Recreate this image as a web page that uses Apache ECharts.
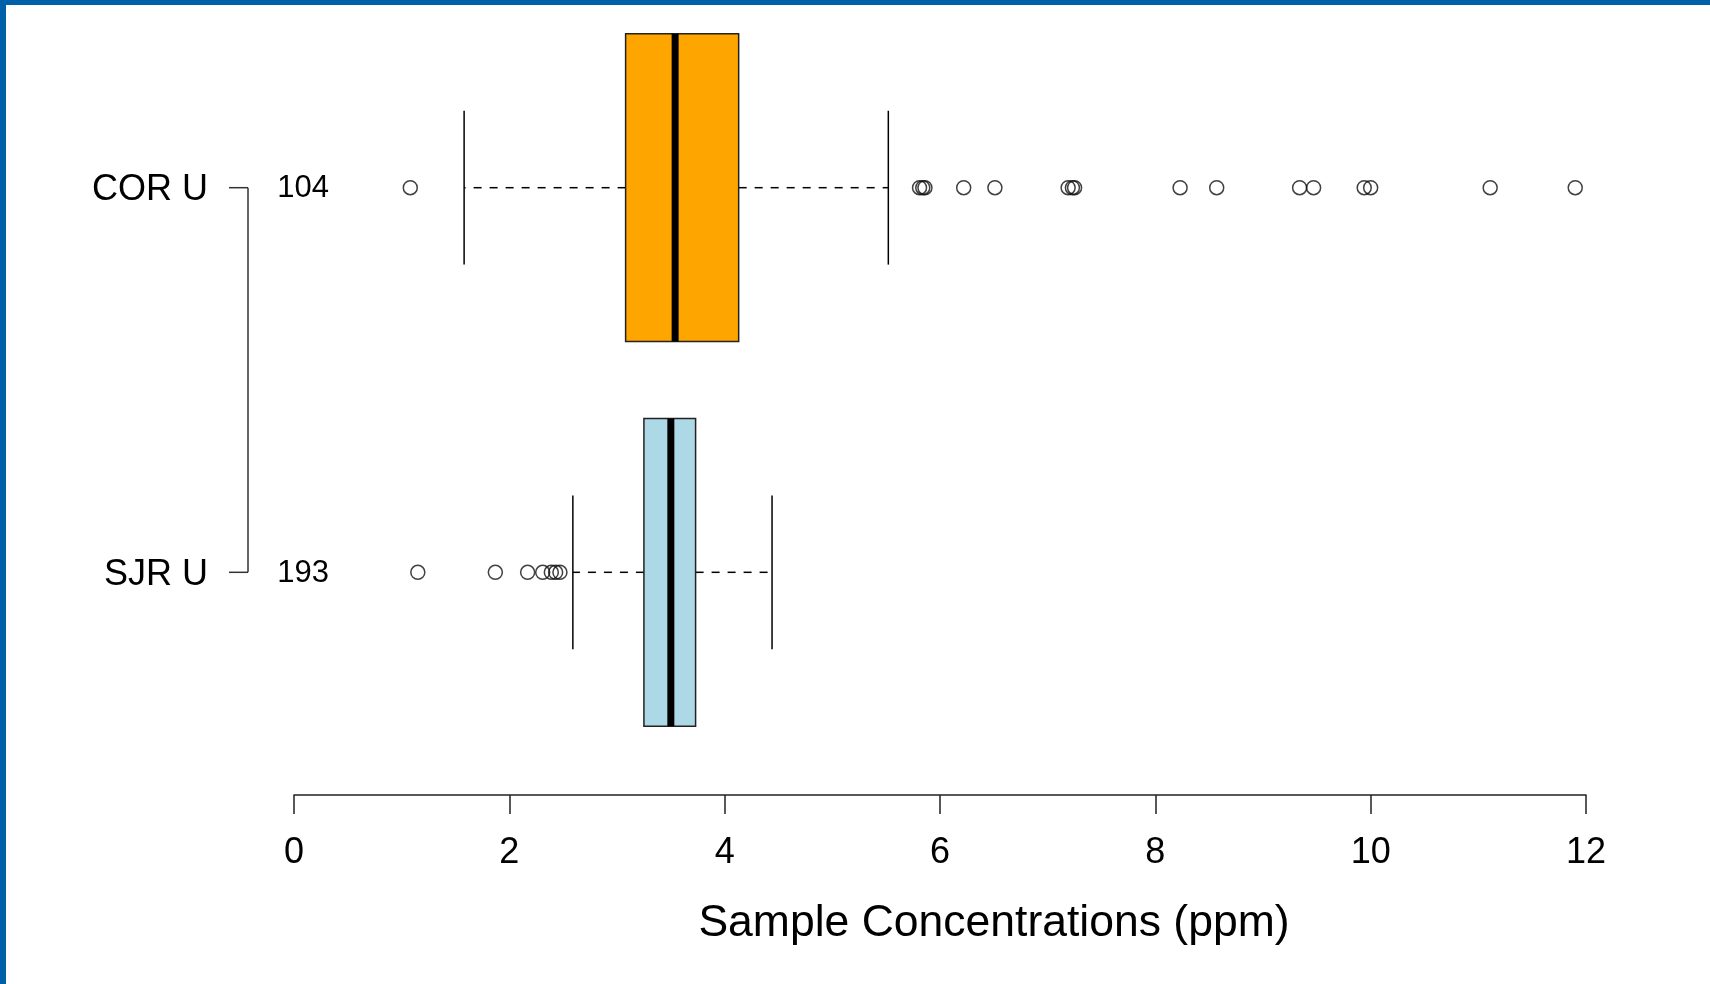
<!DOCTYPE html>
<html>
<head>
<meta charset="utf-8">
<script src="https://cdn.jsdelivr.net/npm/echarts@6/dist/echarts.min.js"></script>
<style>
  html, body { margin: 0; padding: 0; background: #fff; }
  #chart { width: 1710px; height: 984px; }
</style>
</head>
<body>
<div id="chart"></div>
<script>
// groups, bottom to top (y = index)
const categories = ['SJR U', 'COR U'];
const counts = [193, 104];
const boxColors = ['#ADD8E6', '#FFA500'];

// five-number summaries
const lowerWhisker = [2.59, 1.58];
const q1 = [3.25, 3.08];
const median = [3.50, 3.54];
const q3 = [3.73, 4.13];
const upperWhisker = [4.44, 5.52];

// outliers
const outliersSJR = [1.15, 1.87, 2.17, 2.31, 2.39, 2.43, 2.47];
const outliersCOR = [1.08, 5.81, 5.84, 5.86, 6.22, 6.51, 7.19, 7.23, 7.25,
                     8.23, 8.57, 9.34, 9.47, 9.94, 10.0, 11.11, 11.90];

const xTicks = [0, 2, 4, 6, 8, 10, 12];

const chart = echarts.init(document.getElementById('chart'));

const boxData = categories.map((c, i) => [i, lowerWhisker[i], q1[i], median[i], q3[i], upperWhisker[i]]);
const outlierData = [];
outliersSJR.forEach(v => outlierData.push([v, 0]));
outliersCOR.forEach(v => outlierData.push([v, 1]));

function renderBox(params, api) {
  const i = api.value(0);
  const unit = api.size([0, 1])[1];
  const lw = api.coord([api.value(1), i]);
  const a = api.coord([api.value(2), i]);
  const m = api.coord([api.value(3), i]);
  const b = api.coord([api.value(4), i]);
  const uw = api.coord([api.value(5), i]);
  const y = lw[1];
  const hb = unit * 0.4;   // half box height
  const hs = unit * 0.2;   // half staple height
  const x0 = api.coord([0, i])[0];
  const black = { stroke: '#000', lineWidth: 1.5 };
  const dash = { stroke: '#000', lineWidth: 1.5, lineDash: [8, 8] };
  const children = [
    { type: 'line', shape: { x1: a[0], y1: y, x2: lw[0], y2: y }, style: dash },
    { type: 'line', shape: { x1: b[0], y1: y, x2: uw[0], y2: y }, style: dash },
    { type: 'line', shape: { x1: lw[0], y1: y - hs, x2: lw[0], y2: y + hs }, style: black },
    { type: 'line', shape: { x1: uw[0], y1: y - hs, x2: uw[0], y2: y + hs }, style: black },
    { type: 'rect', shape: { x: a[0], y: y - hb, width: b[0] - a[0], height: 2 * hb }, style: { fill: boxColors[i], stroke: '#222', lineWidth: 1.5 } },
    { type: 'line', shape: { x1: m[0], y1: y - hb, x2: m[0], y2: y + hb }, style: { stroke: '#000', lineWidth: 7 } },
    // bracket tick on the left
    { type: 'line', shape: { x1: x0 - 65, y1: y, x2: x0 - 46, y2: y }, style: { stroke: '#333', lineWidth: 1.5 } },
    // sample count
    { type: 'text', x: x0 + 35, y: y + 1, style: { text: String(counts[i]), fill: '#000', font: '31px "Liberation Sans", Arial, sans-serif', align: 'right', verticalAlign: 'middle' } }
  ];
  if (i === categories.length - 1) {
    const yb = api.coord([0, 0])[1];
    children.push({ type: 'line', shape: { x1: x0 - 46, y1: y, x2: x0 - 46, y2: yb }, style: { stroke: '#333', lineWidth: 1.5 } });
  }
  return { type: 'group', children: children };
}

const option = {
  animation: false,
  backgroundColor: '#fff',
  textStyle: { fontFamily: '"Liberation Sans", Arial, sans-serif' },
  grid: { left: 294, right: 124, top: 0, bottom: 189 },
  xAxis: {
    type: 'value',
    min: 0,
    max: 12,
    interval: 2,
    axisLine: { show: true, onZero: false, lineStyle: { color: '#222', width: 1.5 } },
    axisTick: { show: true, length: 19, lineStyle: { color: '#222', width: 1.5 } },
    splitLine: { show: false },
    axisLabel: {
      fontSize: 36,
      color: '#000',
      margin: 40,
      formatter: v => (xTicks.indexOf(v) >= 0 ? String(v) : '')
    },
    name: 'Sample Concentrations (ppm)',
    nameLocation: 'middle',
    nameGap: 129,
    nameTextStyle: { fontSize: 44.5, color: '#000', verticalAlign: 'middle', padding: [0, 0, 0, 108] }
  },
  yAxis: {
    type: 'value',
    min: -0.579,
    max: 1.488,
    axisLine: { show: false },
    axisTick: { show: false },
    splitLine: { show: false },
    axisLabel: {
      color: '#000',
      margin: 86,
      customValues: [0, 1],
      formatter: v => '{n|' + categories[Math.round(v)] + '}',
      rich: { n: { fontSize: 36, color: '#000', padding: [5, 0, 0, 0] } }
    }
  },
  graphic: [
    { type: 'rect', left: 0, top: 0, shape: { width: 1710, height: 5 }, style: { fill: '#0161a8' }, z: 100 },
    { type: 'rect', left: 0, top: 0, shape: { width: 6, height: 984 }, style: { fill: '#0161a8' }, z: 100 }
  ],
  series: [
    {
      type: 'custom',
      name: 'box',
      data: boxData,
      encode: { y: 0, x: [1, 2, 3, 4, 5] },
      renderItem: renderBox,
      clip: false,
      z: 2
    },
    {
      type: 'scatter',
      name: 'outliers',
      data: outlierData,
      symbol: 'circle',
      symbolSize: 14,
      itemStyle: { color: 'rgba(0,0,0,0)', borderColor: '#111', borderWidth: 1.5 },
      z: 3
    }
  ]
};

chart.setOption(option);
</script>
</body>
</html>
